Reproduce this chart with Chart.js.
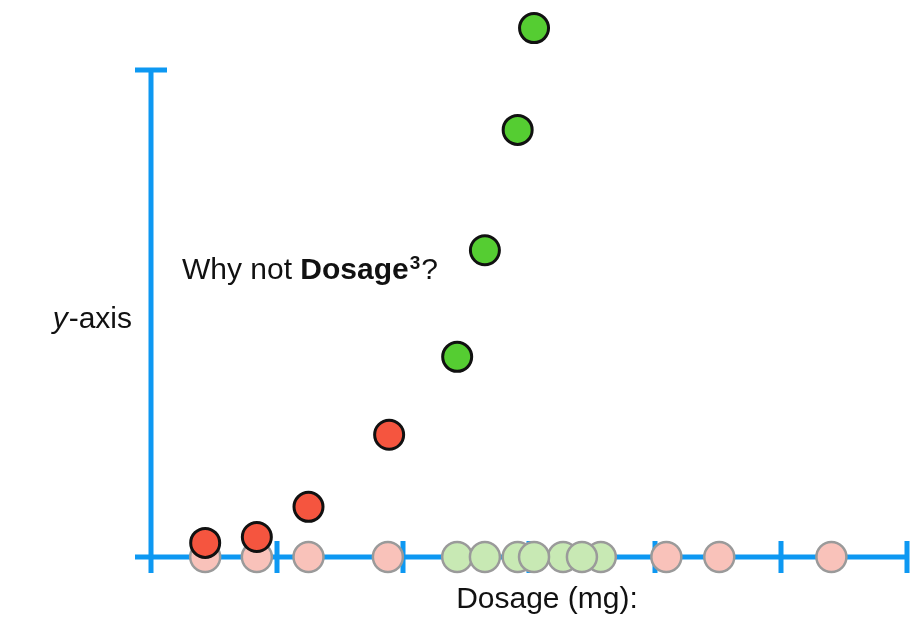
<!DOCTYPE html>
<html>
<head>
<meta charset="utf-8">
<script src="https://cdn.jsdelivr.net/npm/chart.js@4"></script>
<style>
html,body{margin:0;padding:0;background:#fff;}
#wrap{position:relative;width:919px;height:626px;}
</style>
</head>
<body>
<div id="wrap"><canvas id="c"></canvas></div>
<script>
// Data (x in dosage tick units, y in arbitrary y-axis units)
const paleRedX   = [0.43, 0.84, 1.25, 1.88, 4.09, 4.51, 5.40];
const paleGreenX = [2.43, 2.65, 2.91, 3.27, 3.57, 3.04, 3.42];
const redX   = [0.43, 0.84, 1.25, 1.89];
const redY   = [0.29, 0.41, 1.03, 2.51];
const greenX = [2.43, 2.65, 2.91, 3.04];
const greenY = [4.11, 6.30, 8.77, 10.86];
const xTicks = [0, 1, 2, 3, 4, 5, 6];
const yAxisTop = 10;
const xAxisLabel = "Dosage (mg):";
const yAxisLabel = "y-axis";

const BLUE = '#0d98f2';
const FONT = '"Liberation Sans", Arial, sans-serif';

const toPts = (xs, ys) => xs.map((x, i) => ({x: x, y: ys ? ys[i] : 0}));

const axesPlugin = {
  id: 'axes',
  beforeDatasetsDraw(chart) {
    const ctx = chart.ctx, xs = chart.scales.x, ys = chart.scales.y;
    const y0 = ys.getPixelForValue(0);
    const x0 = xs.getPixelForValue(0);
    const xEnd = xs.getPixelForValue(xTicks[xTicks.length - 1]);
    const yTop = ys.getPixelForValue(yAxisTop);
    ctx.save();
    ctx.strokeStyle = BLUE;
    ctx.lineWidth = 5;
    ctx.lineCap = 'butt';
    ctx.beginPath();
    ctx.moveTo(x0 - 16, y0); ctx.lineTo(xEnd, y0);
    ctx.moveTo(x0, y0 + 16); ctx.lineTo(x0, yTop);
    ctx.moveTo(x0 - 16, yTop); ctx.lineTo(x0 + 16, yTop);
    xTicks.forEach(t => {
      if (t === 0) return;
      const px = xs.getPixelForValue(t);
      ctx.moveTo(px, y0 - 16); ctx.lineTo(px, y0 + 16);
    });
    ctx.stroke();
    ctx.restore();
  },
  afterDatasetsDraw(chart) {
    const ctx = chart.ctx;
    ctx.save();
    ctx.fillStyle = '#111';
    ctx.textBaseline = 'alphabetic';
    // x label
    ctx.font = '30px ' + FONT;
    ctx.textAlign = 'center';
    ctx.fillText(xAxisLabel, 547, 608);
    // y label (italic y)
    ctx.textAlign = 'left';
    ctx.font = '30px ' + FONT;
    const restW = ctx.measureText(yAxisLabel.slice(1)).width;
    const yStart = 132 - restW;
    ctx.font = 'italic 30px ' + FONT;
    const yw = ctx.measureText(yAxisLabel[0]).width;
    ctx.fillText(yAxisLabel[0], yStart - yw - 1, 328);
    ctx.font = '30px ' + FONT;
    ctx.fillText(yAxisLabel.slice(1), yStart, 328);
    // annotation
    let x = 182;
    const by = 279;
    ctx.font = '30px ' + FONT;
    ctx.fillText('Why not ', x, by); x += ctx.measureText('Why not ').width;
    ctx.font = 'bold 30px ' + FONT;
    ctx.fillText('Dosage', x, by); x += ctx.measureText('Dosage').width;
    ctx.font = 'bold 19px ' + FONT;
    ctx.fillText('3', x + 1, by - 10); x += ctx.measureText('3').width + 2;
    ctx.font = '30px ' + FONT;
    ctx.fillText('?', x, by);
    ctx.restore();
  }
};

const W = 919, H = 626;
const pxPerX = 126, x0px = 151;
const pxPerY = 48.7, y0px = 557;

new Chart(document.getElementById('c'), {
  type: 'scatter',
  data: {
    datasets: [
      { label: 'green', data: toPts(greenX, greenY), backgroundColor: '#55cd32', borderColor: '#111', borderWidth: 3, pointRadius: 14.5, clip: false },
      { label: 'red', data: toPts(redX, redY), backgroundColor: '#f5553f', borderColor: '#111', borderWidth: 3, pointRadius: 14.5, clip: false },
      { label: 'paleGreen', data: toPts(paleGreenX), backgroundColor: '#c8e9b4', borderColor: '#9a9a9a', borderWidth: 2.5, pointRadius: 15, clip: false },
      { label: 'paleRed', data: toPts(paleRedX), backgroundColor: '#f9c2ba', borderColor: '#9a9a9a', borderWidth: 2.5, pointRadius: 15, clip: false }
    ]
  },
  options: {
    responsive: true,
    maintainAspectRatio: false,
    animation: false,
    events: [],
    layout: { padding: 0, autoPadding: false },
    plugins: { legend: { display: false }, tooltip: { enabled: false } },
    scales: {
      x: { type: 'linear', display: false, min: -x0px / pxPerX, max: (W - x0px) / pxPerX },
      y: { type: 'linear', display: false, min: -(H - y0px) / pxPerY, max: y0px / pxPerY }
    }
  },
  plugins: [axesPlugin]
});
</script>
</body>
</html>
